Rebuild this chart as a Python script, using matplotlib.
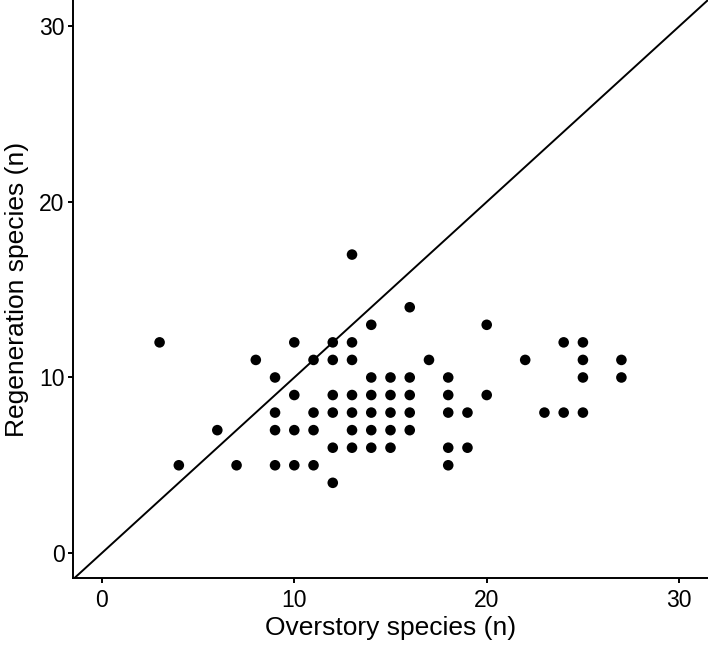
import matplotlib
matplotlib.use("Agg")
import matplotlib.pyplot as plt

plt.rcParams['font.family'] = ['Liberation Sans', 'DejaVu Sans']

# overstory species count vs regeneration species count, one point per plot
overstory = [3, 4, 6, 7, 8,
             9, 9, 9, 9,
             10, 10, 10, 10,
             11, 11, 11, 11,
             12, 12, 12, 12, 12, 12,
             13, 13, 13, 13, 13, 13, 13,
             14, 14, 14, 14, 14, 14,
             15, 15, 15, 15, 15,
             16, 16, 16, 16, 16,
             17,
             18, 18, 18, 18, 18,
             19, 19,
             20, 20,
             22, 23, 24, 24,
             25, 25, 25, 25,
             27, 27]
regeneration = [12, 5, 7, 5, 11,
                10, 8, 7, 5,
                12, 9, 7, 5,
                11, 8, 7, 5,
                12, 11, 9, 8, 6, 4,
                17, 12, 11, 9, 8, 7, 6,
                13, 10, 9, 8, 7, 6,
                10, 9, 8, 7, 6,
                14, 10, 9, 8, 7,
                11,
                10, 9, 8, 6, 5,
                8, 6,
                13, 9,
                11, 8, 12, 8,
                12, 11, 10, 8,
                11, 10]

ticks = [0, 10, 20, 30]

fig = plt.figure(figsize=(7.08, 6.46), dpi=100)
ax = fig.add_axes([0.1031, 0.1053, 0.8969, 0.8947])

ax.axline((0, 0), slope=1, color="black", linewidth=1.4, zorder=1)
ax.scatter(overstory, regeneration, s=58, color="black", edgecolors="none", zorder=2)

ax.set_xlim(-1.5, 31.5)
ax.set_ylim(-1.42, 31.5)
ax.set_xticks(ticks)
ax.set_yticks(ticks)

for side in ["top", "right"]:
    ax.spines[side].set_visible(False)
for side in ["left", "bottom"]:
    ax.spines[side].set_linewidth(1.4)
ax.tick_params(width=1.4, length=3.6, labelsize=16.5, colors="black", pad=2.5)
ax.tick_params(axis="x", pad=4.5)

ax.set_xlabel("Overstory species (n)", fontsize=19, labelpad=2.5)
ax.set_ylabel("Regeneration species (n)", fontsize=19, labelpad=7)

fig.savefig("out.png", dpi=100)
